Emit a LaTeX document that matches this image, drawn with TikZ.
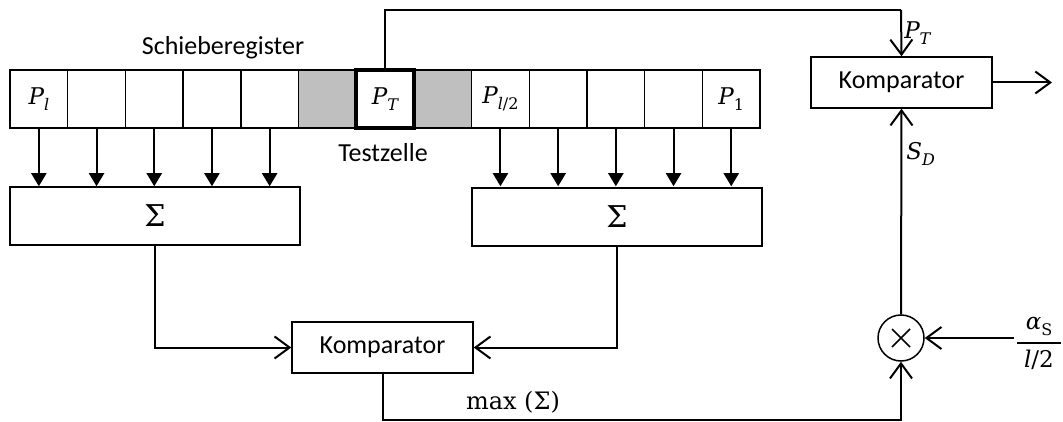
\documentclass[tikz,border=0pt]{standalone}
\usepackage[no-math]{fontspec}
\setmainfont{Carlito}
\newfontfamily\mfont{DejaVu Serif}
\usetikzlibrary{arrows.meta,calc}
\newcommand{\msym}[3]{{\fontsize{23}{26}\selectfont\mfont\itshape #1}\raisebox{-6pt}{\fontsize{16}{16}\selectfont\mfont #2#3}}
\tikzset{
  cell/.style={draw, line width=1.5pt, minimum width=57.7pt, minimum height=58pt, inner sep=0pt, anchor=center},
  graycell/.style={cell, fill=black!25},
  testframe/.style={draw, line width=4pt, minimum width=57.7pt, minimum height=58pt, inner sep=0pt},
  box/.style={draw, line width=1.5pt, inner sep=0pt},
  txt/.style={font=\fontsize{26}{30}\selectfont},
  fillarrow/.style={line width=2pt, -{Triangle[length=13pt,width=15pt]}},
  openarrow/.style={line width=2pt, -{Straight Barb[length=15pt,width=22pt,line width=2pt]}},
  conn/.style={line width=2pt},
}
\begin{document}
\begin{tikzpicture}[x=1pt,y=-1pt]
\useasboundingbox (0,0) rectangle (1063,422);
% register cells
\foreach \i in {0,...,12}{
  \pgfmathsetmacro{\cx}{10+57.7*(\i+0.5)}
  \ifnum\i=5 \node[graycell] (c\i) at (\cx,99) {};
  \else\ifnum\i=7 \node[graycell] (c\i) at (\cx,99) {};
  \else \node[cell] (c\i) at (\cx,99) {};
  \fi\fi
}
\node[testframe] (tf) at (c6) {};
\node (pl) at (c0) {\msym{P}{\itshape l}{}};
\node (pt) at (c6) {\msym{P}{\itshape T}{}};
\node (pl2) at (c8) {\msym{P}{\itshape l}{\upshape/2}};
\node (p1) at (c12) {\msym{P}{\upshape 1}{}};
\node[txt] (sr) at (223,48) {Schieberegister};
\node[txt] (tz) at (383,153) {Testzelle};
% sum boxes
\node[box, minimum width=290pt, minimum height=58pt] (sumL) at (155,216) {};
\node[box, minimum width=290pt, minimum height=58pt] (sumR) at (617,217) {};
\node[font=\fontsize{30}{34}\selectfont\mfont] (sigL) at (sumL) {Σ};
\node[font=\fontsize{30}{34}\selectfont\mfont] (sigR) at (sumR) {Σ};
\foreach \i in {0,...,4,8,9,10,11,12}{
  \draw[fillarrow] (c\i.south) -- (c\i.south |- sumL.north);
}
% comparators
\node[box, txt, minimum width=181pt, minimum height=51pt] (k1) at (382.5,347.5) {Komparator};
\node[box, txt, minimum width=181pt, minimum height=51pt] (k2) at (901.5,82.5) {Komparator};
\node[draw, circle, line width=1.5pt, minimum size=46pt, inner sep=0pt] (mul) at (901,338) {};
\draw[line width=1.5pt] ($(mul)+(-9,-9)$) -- ($(mul)+(9,9)$) ($(mul)+(-9,9)$) -- ($(mul)+(9,-9)$);
% fraction alpha_S / (l/2)
\node[inner sep=0pt] (fnum) at (1039,326) {\msym{α}{\upshape S}{}};
\coordinate (fbl) at (1017,343);
\coordinate (fbr) at (1061,343);
\draw[line width=1.5pt] (fbl) -- (fbr);
\node[inner sep=0pt, font=\fontsize{23}{26}\selectfont\mfont] (fden) at (1039,360) {\itshape l\upshape/2};
\coordinate (fin) at (1014,338);
% connectors
\draw[openarrow] (sumL.south) |- (k1.west);
\draw[openarrow] (sumR.south) |- (k1.east);
\coordinate (bot) at (901,420);
\draw[openarrow] (k1.south) |- (bot) -- (mul.south);
\node[font=\fontsize{24}{28}\selectfont\mfont] (mx) at (513,402) {max (Σ)};
\draw[openarrow] (mul.north) -- (k2.south) node[pos=0.78, right, inner sep=4pt] {\msym{S}{\itshape D}{}};
\draw[openarrow] (fin) -- (mul.east);
\coordinate (top) at (901,10);
\draw[conn] (c6.north) |- (top);
\draw[openarrow] (top) -- (k2.north) node[pos=0.5, right, inner sep=2pt] {\msym{P}{\itshape T}{}};
\coordinate (out) at (1052,82.5);
\draw[openarrow] (k2.east) -- (out);
\end{tikzpicture}
\end{document}
